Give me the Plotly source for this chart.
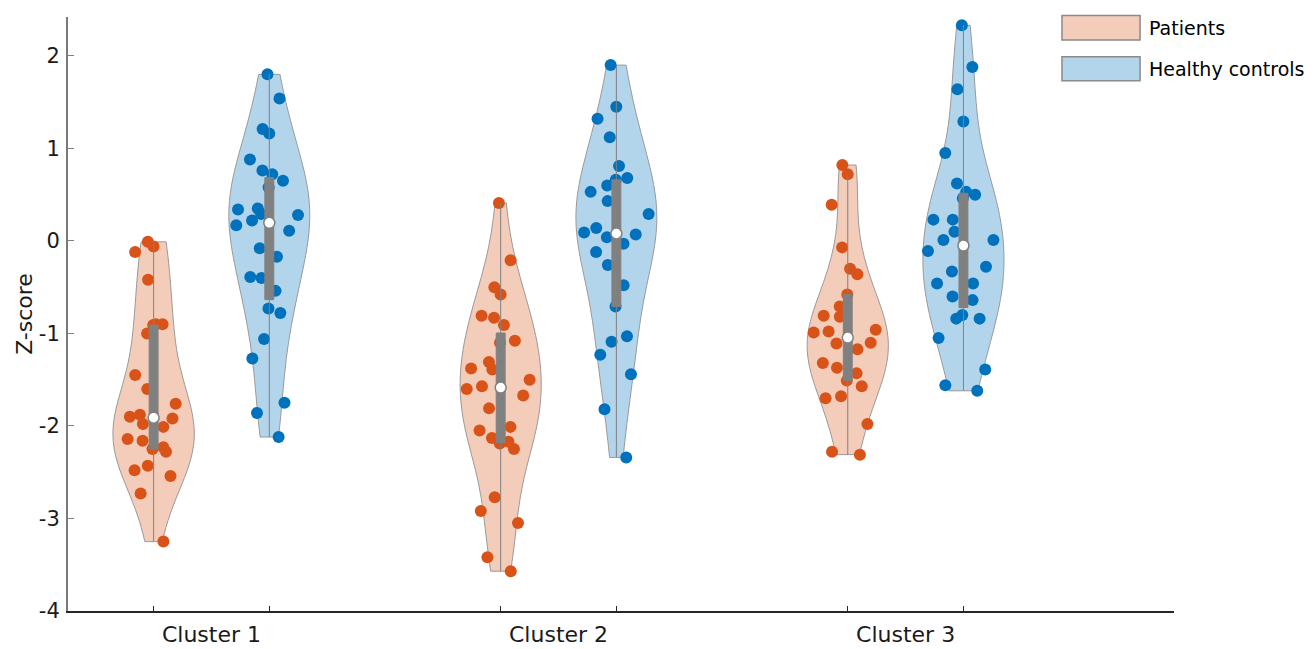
import numpy as np
import plotly.graph_objects as go

# ---------------- data ----------------
clusters = ["Cluster 1", "Cluster 2", "Cluster 3"]
group_names = ["Patients", "Healthy controls"]

patients_c1 = [-0.01, -0.06, -0.12, -0.42, -0.90, -0.91, -0.90, -1.00, -1.45, -1.60,
               -1.76, -1.98, -1.88, -1.90, -1.92, -2.01, -2.23, -2.16, -2.14, -2.28,
               -2.25, -2.43, -2.48, -2.54, -2.73, -3.25]
controls_c1 = [1.80, 1.54, 1.21, 1.16, 0.88, 0.76, 0.72, 0.65, 0.58, 0.34, 0.35, 0.29,
               0.28, 0.22, 0.17, 0.11, -0.08, -0.17, -0.40, -0.39, -0.54, -0.73, -0.78,
               -1.06, -1.27, -1.75, -1.86, -2.12]
patients_c2 = [0.41, -0.21, -0.50, -0.58, -0.83, -0.81, -0.91, -1.10, -1.08, -1.31,
               -1.39, -1.38, -1.50, -1.57, -1.60, -1.67, -1.81, -2.01, -2.05, -2.13,
               -2.17, -2.19, -2.25, -2.77, -2.92, -3.05, -3.42, -3.57]
controls_c2 = [1.90, 1.45, 1.32, 1.12, 0.81, 0.66, 0.68, 0.53, 0.60, 0.43, 0.29, 0.07,
               0.04, 0.14, 0.09, -0.03, -0.12, -0.26, -0.48, -0.71, -1.03, -1.09, -1.23,
               -1.44, -1.82, -2.34]
patients_c3 = [0.82, 0.72, 0.39, -0.07, -0.30, -0.36, -0.58, -0.71, -0.81, -0.82,
               -0.96, -0.99, -0.98, -1.11, -1.10, -1.17, -1.37, -1.32, -1.43, -1.51,
               -1.57, -1.68, -1.70, -1.98, -2.28, -2.31]
controls_c3 = [2.33, 1.88, 1.64, 1.29, 0.95, 0.62, 0.53, 0.50, 0.46, 0.23, 0.23, 0.10,
               0.01, 0.01, -0.11, -0.28, -0.33, -0.46, -0.46, -0.60, -0.64, -0.80, -0.84,
               -0.84, -1.05, -1.39, -1.56, -1.62]

y_ticks = [-4, -3, -2, -1, 0, 1, 2]

# ---------------- layout config ----------------
patient_pos = [1, 4, 7]
control_pos = [2, 5, 8]
cluster_pos = [1.5, 4.5, 7.5]
x_range = [0.26, 9.82]
y_range = [-4, 2.42]

FONT = "DejaVu Sans"
TXT = "#1a1a1a"
pat_fill, pat_pt = "rgb(244,204,186)", "#D95319"
con_fill, con_pt = "rgb(179,213,235)", "#0072BD"
edge = "#9a9a9a"
box_gray = "#808080"

groups = [
    (group_names[0], pat_fill, pat_pt, patient_pos, [patients_c1, patients_c2, patients_c3]),
    (group_names[1], con_fill, con_pt, control_pos, [controls_c1, controls_c2, controls_c3]),
]

fig = go.Figure()

# violins with points
for name, fill, pt, positions, datasets in groups:
    for pos, vals in zip(positions, datasets):
        fig.add_trace(go.Violin(
            x=[pos] * len(vals), y=vals, name=name, showlegend=False,
            width=0.7, scalemode="width", spanmode="hard",
            fillcolor=fill, line=dict(color=edge, width=1),
            points="all", pointpos=0, jitter=0.9,
            marker=dict(color=pt, size=12, line=dict(width=0)),
            box_visible=False, meanline_visible=False, hoverinfo="skip",
        ))

# inner boxes + whiskers on top of points
for name, fill, pt, positions, datasets in groups:
    for pos, vals in zip(positions, datasets):
        fig.add_trace(go.Violin(
            x=[pos] * len(vals), y=vals, name=name, showlegend=False,
            width=0.7, scalemode="width", spanmode="hard",
            fillcolor="rgba(0,0,0,0)", line=dict(color="rgba(0,0,0,0)", width=0),
            points=False,
            box=dict(visible=True, width=0.11, fillcolor=box_gray,
                     line=dict(color=box_gray, width=1)),
            meanline_visible=False, hoverinfo="skip",
        ))

# median markers
for name, fill, pt, positions, datasets in groups:
    fig.add_trace(go.Scatter(
        x=positions, y=[float(np.median(v)) for v in datasets],
        xaxis="x2", mode="markers", showlegend=False, hoverinfo="skip",
        marker=dict(color="white", size=11, line=dict(color=box_gray, width=1.5)),
    ))

# custom legend (MATLAB-style wide swatches)
legend_rows = [(group_names[0], pat_fill, 0.9613, 1.0025), (group_names[1], con_fill, 0.8928, 0.9332)]
for label, fill, y0, y1 in legend_rows:
    fig.add_shape(type="rect", xref="paper", yref="paper", x0=0.8987, x1=0.9693,
                  y0=y0, y1=y1, fillcolor=fill, line=dict(color="#8a8a8a", width=1.5),
                  layer="above")
    fig.add_annotation(xref="paper", yref="paper", x=0.9756, y=(y0 + y1) / 2,
                       text=label, showarrow=False, xanchor="left", yanchor="middle",
                       font=dict(family=FONT, size=19, color="#000000"))

fig.update_layout(
    width=1314, height=649,
    margin=dict(l=68, r=140, t=17, b=38),
    paper_bgcolor="white", plot_bgcolor="white",
    violinmode="overlay",
    font=dict(family=FONT, size=21, color=TXT),
    showlegend=False,
    xaxis=dict(range=x_range, tickmode="array", tickvals=patient_pos + control_pos,
               ticktext=[""] * 6, ticks="inside", ticklen=5, tickcolor="#262626",
               tickwidth=1, showline=True, linecolor="#262626", linewidth=1.5,
               showgrid=False, zeroline=False, automargin=False),
    xaxis2=dict(range=x_range, overlaying="x", anchor="y", side="bottom",
                tickmode="array", tickvals=cluster_pos, ticktext=clusters,
                ticks="", showline=False, showgrid=False, zeroline=False,
                tickfont=dict(family=FONT, size=22, color=TXT),
                ticklabelstandoff=8, automargin=False),
    yaxis=dict(range=y_range, tickmode="array", tickvals=y_ticks,
               ticktext=[str(t) for t in y_ticks],
               ticks="inside", ticklen=6, tickcolor="#808080", tickwidth=1,
               showline=True, linecolor="#7a7a7a", linewidth=2,
               showgrid=False, zeroline=False, automargin=False,
               tickfont=dict(family=FONT, size=21, color=TXT),
               ticklabelstandoff=2,
               title=dict(text="Z-score", font=dict(family=FONT, size=22, color=TXT),
                          standoff=0)),
)

fig.write_html(
    "out.html",
    config={"displayModeBar": False, "staticPlot": True},
    post_script="document.body.style.margin='0';document.body.style.overflow='hidden';",
)
